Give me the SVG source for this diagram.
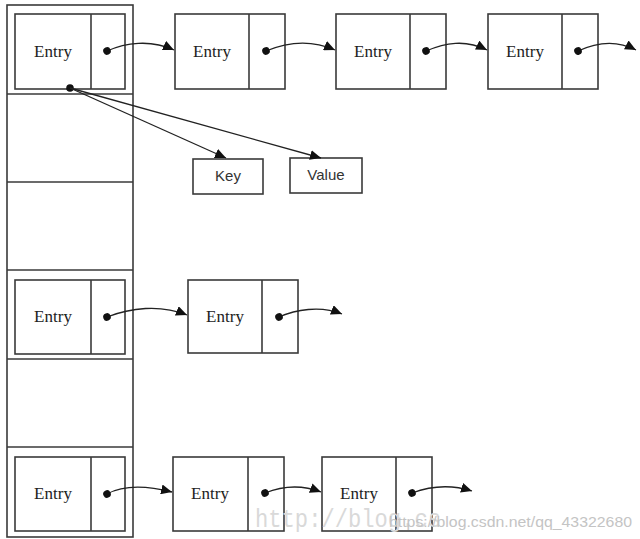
<svg xmlns="http://www.w3.org/2000/svg" width="640" height="539" viewBox="0 0 640 539">
<style>
  .box { fill: #ffffff; stroke: #3a3a3a; stroke-width: 1.6; }
  .div { stroke: #3a3a3a; stroke-width: 1.6; fill: none; }
  .entry { font-family: "Liberation Serif", "Times New Roman", serif; font-size: 17px; fill: #222; text-anchor: middle; }
  .kv { font-family: "Liberation Sans", Arial, sans-serif; font-size: 15px; fill: #333; text-anchor: middle; }
  .link { fill: none; stroke: #222; stroke-width: 1.3; marker-start: url(#dot); marker-end: url(#tri); }
  .ptr { fill: none; stroke: #222; stroke-width: 1.3; marker-end: url(#tri); }
  .wm1 { font-family: "Liberation Mono", "Courier New", monospace; font-size: 26px; fill: #d9d9d9; }
  .wm2 { font-family: "Liberation Sans", Arial, sans-serif; font-size: 15px; fill: #c4c4c4; }
</style>
<defs>
  <marker id="tri" markerUnits="userSpaceOnUse" markerWidth="12" markerHeight="10" refX="11" refY="5" orient="auto">
    <path d="M0,0 L11,5 L0,10 z" fill="#111"/>
  </marker>
  <marker id="dot" markerUnits="userSpaceOnUse" markerWidth="10" markerHeight="10" refX="5" refY="5" orient="auto">
    <circle cx="5" cy="5" r="3.8" fill="#111"/>
  </marker>
</defs>

<g id="bucket-array">
  <rect class="box" x="7" y="5" width="126" height="532"/>
  <line class="div" x1="7" y1="94" x2="133" y2="94"/>
  <line class="div" x1="7" y1="182" x2="133" y2="182"/>
  <line class="div" x1="7" y1="270" x2="133" y2="270"/>
  <line class="div" x1="7" y1="359" x2="133" y2="359"/>
  <line class="div" x1="7" y1="447" x2="133" y2="447"/>
</g>

<g id="entry-0-0">
  <rect class="box" x="15" y="14" width="110" height="75"/>
  <line class="div" x1="91" y1="14" x2="91" y2="89"/>
  <text class="entry" x="53" y="57">Entry</text>
</g>
<g id="entry-0-1">
  <rect class="box" x="175" y="14" width="110" height="75"/>
  <line class="div" x1="249" y1="14" x2="249" y2="89"/>
  <text class="entry" x="212" y="57">Entry</text>
</g>
<g id="entry-0-2">
  <rect class="box" x="336" y="14" width="110" height="75"/>
  <line class="div" x1="410" y1="14" x2="410" y2="89"/>
  <text class="entry" x="373" y="57">Entry</text>
</g>
<g id="entry-0-3">
  <rect class="box" x="488" y="14" width="110" height="75"/>
  <line class="div" x1="562" y1="14" x2="562" y2="89"/>
  <text class="entry" x="525" y="57">Entry</text>
</g>

<g id="key">
  <rect class="box" x="193" y="159" width="70" height="35"/>
  <text class="kv" x="228" y="181">Key</text>
</g>
<g id="value">
  <rect class="box" x="290" y="158" width="72" height="35"/>
  <text class="kv" x="326" y="180">Value</text>
</g>

<g id="entry-2-0">
  <rect class="box" x="15" y="280" width="110" height="74"/>
  <line class="div" x1="91" y1="280" x2="91" y2="354"/>
  <text class="entry" x="53" y="322">Entry</text>
</g>
<g id="entry-2-1">
  <rect class="box" x="188" y="280" width="110" height="73"/>
  <line class="div" x1="262" y1="280" x2="262" y2="353"/>
  <text class="entry" x="225" y="322">Entry</text>
</g>

<g id="entry-4-0">
  <rect class="box" x="15" y="457" width="110" height="74"/>
  <line class="div" x1="91" y1="457" x2="91" y2="531"/>
  <text class="entry" x="53" y="499">Entry</text>
</g>
<g id="entry-4-1">
  <rect class="box" x="173" y="457" width="111" height="74"/>
  <line class="div" x1="248" y1="457" x2="248" y2="531"/>
  <text class="entry" x="210" y="499">Entry</text>
</g>
<g id="entry-4-2">
  <rect class="box" x="322" y="457" width="110" height="74"/>
  <line class="div" x1="396" y1="457" x2="396" y2="531"/>
  <text class="entry" x="359" y="499">Entry</text>
</g>

<g id="connectors">
  <path class="link" d="M107,51 C125,43 150,39 174,50"/>
  <path class="link" d="M266,51 C285,43 310,39 335,50"/>
  <path class="link" d="M426,51 C445,43 465,39 487,50"/>
  <path class="link" d="M578,51 C595,43 615,39 636,50"/>
  <circle cx="70" cy="88" r="3.8" fill="#111"/>
  <path class="ptr" d="M70,88 L226,158"/>
  <path class="ptr" d="M70,88 L321,158"/>
  <path class="link" d="M107,317 C130,308 160,304 187,315"/>
  <path class="link" d="M279,317 C295,310 320,305 342,314"/>
  <path class="link" d="M107,494 C120,487 140,484 172,492"/>
  <path class="link" d="M265,493 C280,487 300,484 321,492"/>
  <path class="link" d="M412,493 C428,487 450,484 472,491"/>
</g>

<g id="watermark">
  <text class="wm1" x="255" y="527" textLength="186" lengthAdjust="spacingAndGlyphs">http://blog.cs</text>
  <text class="wm2" x="389" y="527" textLength="243" lengthAdjust="spacingAndGlyphs">https://blog.csdn.net/qq_43322680</text>
</g>
</svg>
